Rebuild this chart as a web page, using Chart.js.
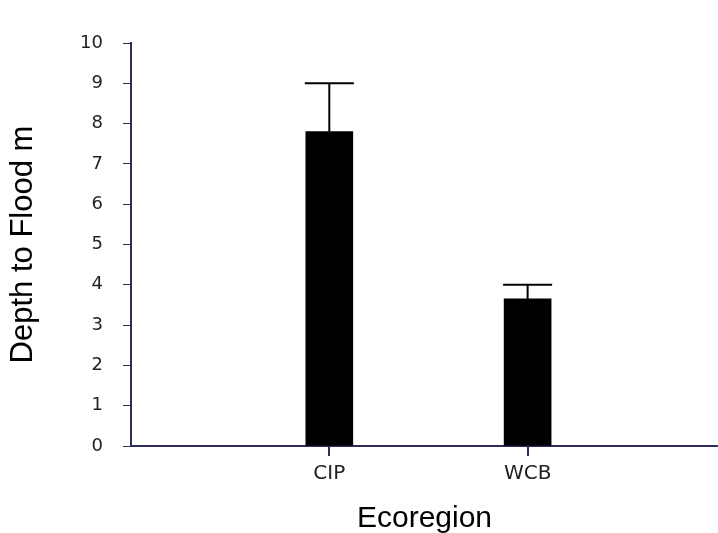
<!DOCTYPE html>
<html>
<head>
<meta charset="utf-8">
<script src="https://cdn.jsdelivr.net/npm/chart.js@4/dist/chart.umd.min.js"></script>
<style>
  html, body { margin: 0; padding: 0; background: #ffffff; }
  #wrap { width: 718px; height: 533px; }
</style>
</head>
<body>
<div id="wrap"><canvas id="c" width="718" height="533"></canvas></div>
<script>
// Ecoregions and their mean depth to flood (m), with upper error-bar ends
const categories = ['CIP', 'WCB'];
const positions = [1, 2];
const depthMeans = [7.8, 3.65];
const errorUpper = [9.0, 4.0];
const yTicks = [0, 1, 2, 3, 4, 5, 6, 7, 8, 9, 10];

const axisColor = '#2e2e5c';
const tickFont = 'DejaVu Sans, Verdana, sans-serif';
const titleFont = 'Liberation Sans, Arial, sans-serif';

// Vertical error bars with a cap as wide as the bar, plus category tick marks
const errorBars = {
  id: 'errorBars',
  afterDraw(chart) {
    const ctx = chart.ctx;
    const meta = chart.getDatasetMeta(0);
    const x = chart.scales.x;
    const y = chart.scales.y;
    ctx.save();
    ctx.strokeStyle = '#000';
    meta.data.forEach((bar, i) => {
      const top = y.getPixelForValue(errorUpper[i]);
      const half = bar.width / 2 + 1;
      ctx.lineWidth = 2;
      ctx.beginPath();
      ctx.moveTo(bar.x, bar.y);
      ctx.lineTo(bar.x, top);
      ctx.stroke();
      ctx.beginPath();
      ctx.moveTo(bar.x - half, top);
      ctx.lineTo(bar.x + half, top);
      ctx.stroke();
    });
    ctx.strokeStyle = axisColor;
    ctx.lineWidth = 2;
    const base = y.getPixelForValue(0);
    positions.forEach(p => {
      const px = Math.round(x.getPixelForValue(p));
      ctx.beginPath();
      ctx.moveTo(px, base);
      ctx.lineTo(px, base + 10);
      ctx.stroke();
    });
    ctx.restore();
  }
};

new Chart(document.getElementById('c'), {
  type: 'bar',
  data: {
    datasets: [{
      data: positions.map((p, i) => ({ x: p, y: depthMeans[i] })),
      backgroundColor: '#000000',
      borderWidth: 0,
      barThickness: 47
    }]
  },
  options: {
    responsive: false,
    animation: false,
    layout: { padding: { top: 43, right: 0, left: 0, bottom: 0 } },
    plugins: { legend: { display: false }, tooltip: { enabled: false } },
    scales: {
      x: {
        type: 'linear',
        offset: false,
        min: 0,
        max: 2.96,
        afterBuildTicks(scale) {
          scale.ticks = positions.map(v => ({ value: v }));
        },
        afterFit(scale) { scale.height = 87; },
        ticks: {
          autoSkip: false,
          maxRotation: 0,
          padding: 8,
          color: '#222222',
          font: { family: tickFont, size: 20 },
          callback: (v) => categories[positions.indexOf(v)] ?? ''
        },
        grid: {
          offset: false,
          drawOnChartArea: false,
          drawTicks: true,
          tickLength: 8,
          color: axisColor,
          tickColor: axisColor
        },
        border: { display: true, color: axisColor, width: 2 },
        title: {
          display: true,
          text: 'Ecoregion',
          color: '#000000',
          font: { family: titleFont, size: 30, lineHeight: 1 },
          padding: { top: 0, bottom: -1 }
        }
      },
      y: {
        min: 0,
        max: 10,
        afterBuildTicks(scale) {
          scale.ticks = yTicks.map(v => ({ value: v }));
        },
        afterFit(scale) { scale.width = 131; },
        ticks: {
          padding: 20,
          color: '#222222',
          font: { family: tickFont, size: 18 }
        },
        grid: {
          drawOnChartArea: false,
          drawTicks: true,
          tickLength: 8,
          color: axisColor,
          tickColor: axisColor
        },
        border: { display: true, color: axisColor, width: 2 },
        title: {
          display: true,
          text: 'Depth to Flood m',
          color: '#000000',
          font: { family: titleFont, size: 31, lineHeight: 1 },
          padding: { top: 8, bottom: 0 }
        }
      }
    }
  },
  plugins: [errorBars]
});
</script>
</body>
</html>
